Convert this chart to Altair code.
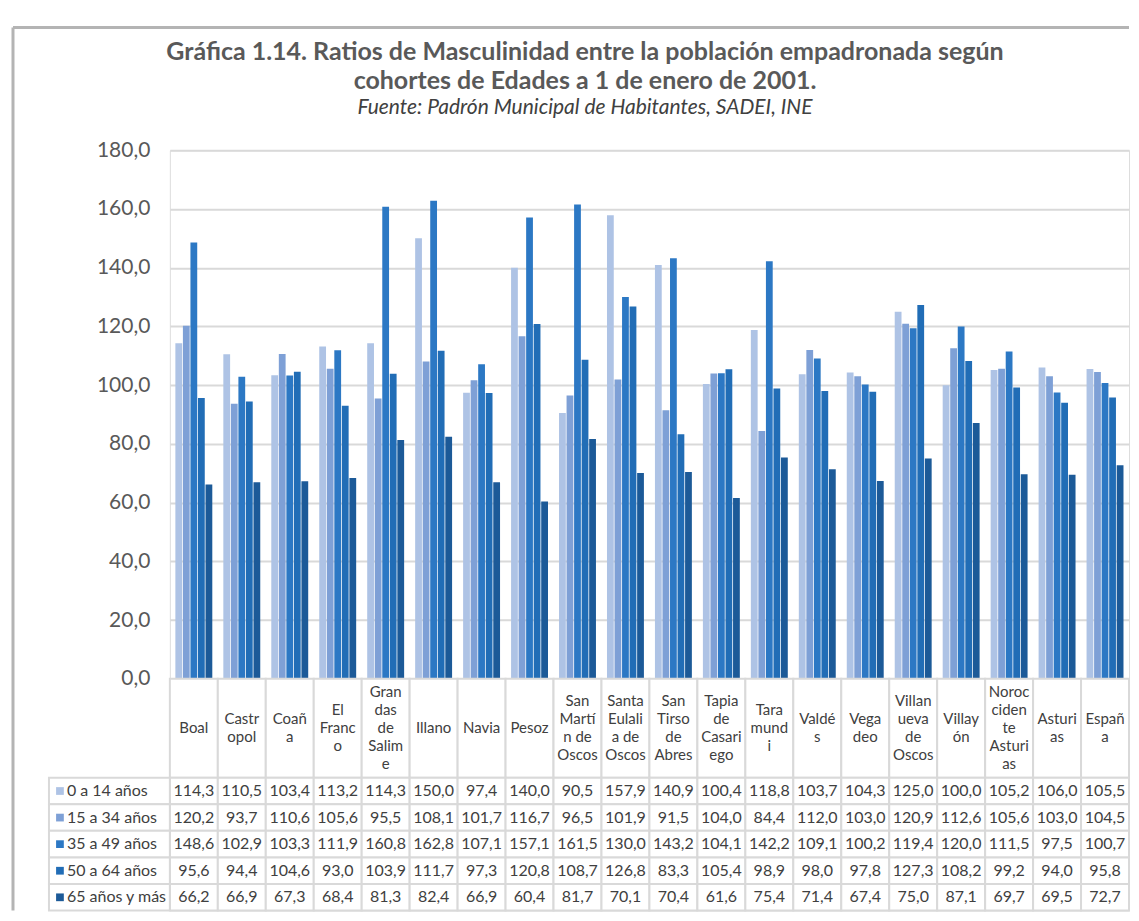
import altair as alt
import pandas as pd

municipios = ["Boal", "Castropol", "Coaña", "El Franco", "Grandas de Salime", "Illano",
              "Navia", "Pesoz", "San Martín de Oscos", "Santa Eulalia de Oscos",
              "San Tirso de Abres", "Tapia de Casariego", "Taramundi", "Valdés", "Vegadeo",
              "Villanueva de Oscos", "Villayón", "Noroccidente Asturias", "Asturias", "España"]
cabeceras = ["Boal", "Castr\nopol", "Coañ\na", "El\nFranc\no", "Gran\ndas\nde\nSalim\ne",
             "Illano", "Navia", "Pesoz", "San\nMartí\nn de\nOscos", "Santa\nEulali\na de\nOscos",
             "San\nTirso\nde\nAbres", "Tapia\nde\nCasari\nego", "Tara\nmund\ni", "Valdé\ns",
             "Vega\ndeo", "Villan\nueva\nde\nOscos", "Villay\nón", "Noroc\nciden\nte\nAsturi\nas",
             "Asturi\nas", "Españ\na"]
series = ["0 a 14 años", "15 a 34 años", "35 a 49 años", "50 a 64 años", "65 años y más"]

v_0_14 = [114.3, 110.5, 103.4, 113.2, 114.3, 150.0, 97.4, 140.0, 90.5, 157.9,
          140.9, 100.4, 118.8, 103.7, 104.3, 125.0, 100.0, 105.2, 106.0, 105.5]
v_15_34 = [120.2, 93.7, 110.6, 105.6, 95.5, 108.1, 101.7, 116.7, 96.5, 101.9,
           91.5, 104.0, 84.4, 112.0, 103.0, 120.9, 112.6, 105.6, 103.0, 104.5]
v_35_49 = [148.6, 102.9, 103.3, 111.9, 160.8, 162.8, 107.1, 157.1, 161.5, 130.0,
           143.2, 104.1, 142.2, 109.1, 100.2, 119.4, 120.0, 111.5, 97.5, 100.7]
v_50_64 = [95.6, 94.4, 104.6, 93.0, 103.9, 111.7, 97.3, 120.8, 108.7, 126.8,
           83.3, 105.4, 98.9, 98.0, 97.8, 127.3, 108.2, 99.2, 94.0, 95.8]
v_65 = [66.2, 66.9, 67.3, 68.4, 81.3, 82.4, 66.9, 60.4, 81.7, 70.1,
        70.4, 61.6, 75.4, 71.4, 67.4, 75.0, 87.1, 69.7, 69.5, 72.7]
y_ticks = [0, 20, 40, 60, 80, 100, 120, 140, 160, 180]

colores = ["#AEC3E5", "#7EA0D6", "#2C78C4", "#216DB6", "#1C5A98"]

FONT = "Lato"
GRID = "#D9D9D9"
TXT = "#404040"
FRAME = "#B4B4B4"

rows = []
for s, vals in zip(series, [v_0_14, v_15_34, v_35_49, v_50_64, v_65]):
    for m, v in zip(municipios, vals):
        rows.append({"municipio": m, "serie": s, "valor": v})
df = pd.DataFrame(rows)
hdf = pd.DataFrame({"municipio": municipios, "cabecera": cabeceras})
sdf = pd.DataFrame({"serie": series})
one = pd.DataFrame({"k": [0]})

W = 960
H_PLOT = 529
H_HEAD = 99
H_VALS = 133
LINE_H = 18
FR_X = -157   # decorative chart-frame position, relative to the plot area
FR_Y = -123

color = alt.Color("serie:N", scale=alt.Scale(domain=series, range=colores), legend=None)

bars = alt.Chart(df).mark_bar().encode(
    x=alt.X("municipio:N", sort=municipios,
            scale=alt.Scale(domain=municipios, paddingInner=0.23, paddingOuter=0.115),
            axis=None),
    xOffset=alt.XOffset("serie:N", sort=series,
                        scale=alt.Scale(domain=series, paddingInner=0.1)),
    y=alt.Y("valor:Q", scale=alt.Scale(domain=[0, 180], nice=False),
            axis=alt.Axis(values=y_ticks, title=None, domain=False, ticks=False,
                          labelExpr="replace(format(datum.value, '.1f'), '.', ',')",
                          labelFont=FONT, labelFontSize=21, labelColor="#595959",
                          labelPadding=20, grid=True, gridColor=GRID, gridWidth=2)),
    color=color,
)
frame_top = alt.Chart(one).mark_rule(color=FRAME, strokeWidth=3).encode(
    x=alt.value(FR_X), x2=alt.value(W), y=alt.value(FR_Y))
frame_left = alt.Chart(one).mark_rule(color=FRAME, strokeWidth=3).encode(
    x=alt.value(FR_X), y=alt.value(FR_Y), y2=alt.value(H_PLOT + H_HEAD + H_VALS))
top = alt.layer(frame_top, frame_left, bars).properties(width=W, height=H_PLOT)

xs_table = alt.X("municipio:N", sort=municipios,
                 scale=alt.Scale(domain=municipios, paddingInner=0, paddingOuter=0),
                 axis=None)

hbase = alt.Chart(hdf).encode(x=xs_table)
hcells = hbase.mark_rect(fill="white", stroke=GRID, strokeWidth=2).encode(
    y=alt.value(0), y2=alt.value(H_HEAD))
htext = hbase.transform_calculate(
    nlin="length(split(datum.cabecera, '\\n'))"
).transform_calculate(
    ypos=f"{H_HEAD / 2} - (datum.nlin - 1) * {LINE_H / 2}"
).mark_text(lineBreak="\n", font=FONT, fontSize=15, lineHeight=LINE_H,
            color=TXT, baseline="middle").encode(
    text="cabecera:N",
    y=alt.Y("ypos:Q", scale=alt.Scale(domain=[0, H_HEAD], range=[0, H_HEAD], nice=False,
                                      zero=False), axis=None))
header = alt.layer(hcells, htext).properties(width=W, height=H_HEAD)

ys_table = alt.Y("serie:N", sort=series,
                 scale=alt.Scale(domain=series, paddingInner=0, paddingOuter=0),
                 axis=None)
vbase = alt.Chart(df).transform_calculate(
    etiqueta="replace(format(datum.valor, '.1f'), '.', ',')"
).encode(x=xs_table, y=ys_table)
vcells = vbase.mark_rect(fill="white", stroke=GRID, strokeWidth=2)
vtext = vbase.mark_text(font=FONT, fontSize=16, color=TXT).encode(text="etiqueta:N")

lbase = alt.Chart(sdf).encode(y=ys_table)
lcells = lbase.mark_rect(fill="white", stroke=GRID, strokeWidth=2).encode(
    x=alt.value(-121), x2=alt.value(0))
lsw = lbase.mark_square(size=60, opacity=1).encode(x=alt.value(-110), color=color)
ltext = lbase.mark_text(align="left", font=FONT, fontSize=16, color=TXT).encode(
    x=alt.value(-103), text="serie:N")

values = alt.layer(vcells, vtext, lcells, lsw, ltext).properties(width=W, height=H_VALS)

chart = alt.vconcat(top, header, values, spacing=0, bounds="flush").properties(
    title=alt.TitleParams(
        text=["Gráfica 1.14. Ratios de Masculinidad entre la población empadronada según",
              "cohortes de Edades a 1 de enero de 2001."],
        subtitle="Fuente: Padrón Municipal de Habitantes, SADEI, INE",
        font=FONT, fontSize=25, fontWeight="bold", color="#595959", lineHeight=29,
        subtitleFont=FONT, subtitleFontSize=21, subtitleFontStyle="italic",
        subtitleColor=TXT, subtitlePadding=3, anchor="middle", offset=-93, dx=14),
    padding={"left": 3, "top": 17, "right": 0, "bottom": 0},
).configure_view(stroke=None).configure(background="white")

chart.save("out.html", embed_options={"renderer": "svg", "actions": False})
